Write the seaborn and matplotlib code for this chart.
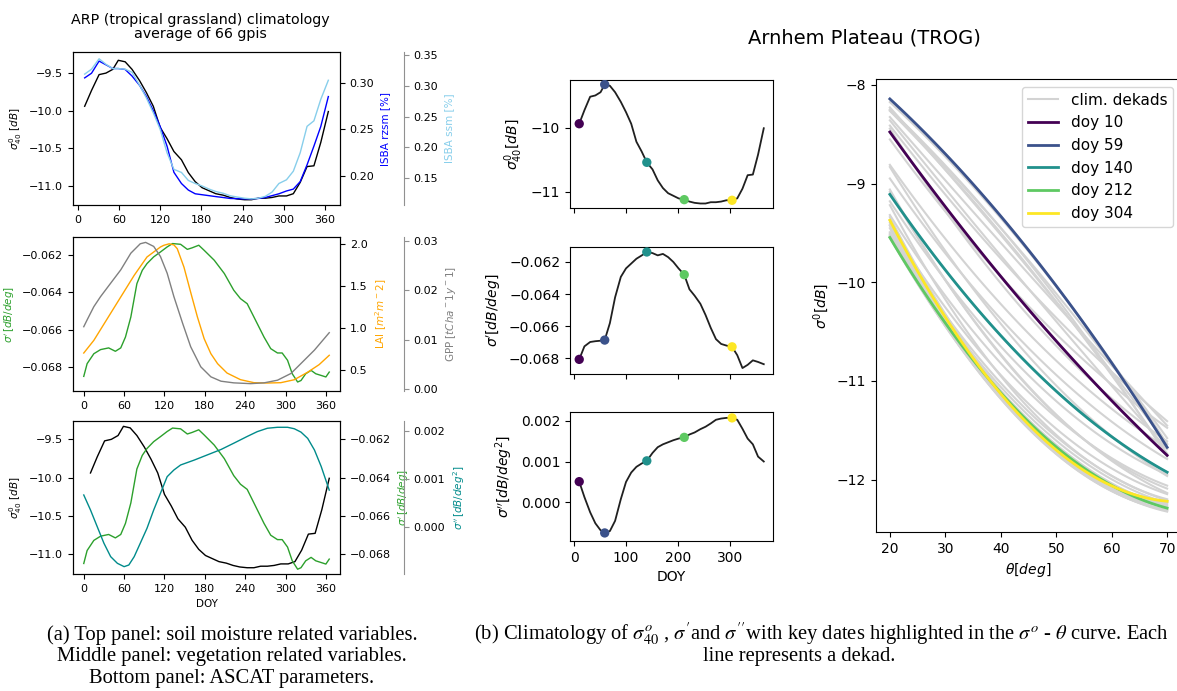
import numpy as np
import matplotlib
matplotlib.use("Agg")
import matplotlib.pyplot as plt
import seaborn as sns
from matplotlib.ticker import MultipleLocator, FixedLocator

# ---------------- data ----------------
dekad_doy = [10, 20, 31, 41, 51, 59, 69, 79, 90, 100, 110, 120, 130, 140, 151, 161, 171, 181,
             191, 201, 212, 222, 232, 243, 253, 263, 273, 283, 293, 304, 314, 324, 334, 344, 354, 365]
sig40 = [-9.94, -9.73, -9.52, -9.50, -9.45, -9.33, -9.35, -9.45, -9.60, -9.76,
         -9.94, -10.22, -10.37, -10.54, -10.65, -10.82, -10.94, -11.02, -11.06, -11.10,
         -11.12, -11.15, -11.17, -11.18, -11.18, -11.16, -11.16, -11.15, -11.13, -11.13,
         -11.10, -10.95, -10.74, -10.73, -10.42, -10.01]
sig1 = [-0.06806, -0.06725, -0.06698, -0.06693, -0.06690, -0.06686, -0.06580, -0.06420, -0.06293, -0.06240,
        -0.06210, -0.06180, -0.06160, -0.06138, -0.06145, -0.06159, -0.06150, -0.06170, -0.06200, -0.06240,
        -0.06279, -0.06370, -0.06410, -0.06460, -0.06530, -0.06610, -0.06680, -0.06710, -0.06720, -0.06728,
        -0.06780, -0.06860, -0.06840, -0.06812, -0.06822, -0.06836]
sig2 = [0.000508, 0.000130, -0.000240, -0.000510, -0.000680, -0.000746, -0.000700, -0.000450, 0.000080, 0.000500,
        0.000730, 0.000870, 0.000950, 0.001016, 0.001210, 0.001350, 0.001420, 0.001470, 0.001520, 0.001560,
        0.001590, 0.001660, 0.001710, 0.001790, 0.001850, 0.001930, 0.002020, 0.002050, 0.002066, 0.002066,
        0.002020, 0.001800, 0.001560, 0.001420, 0.001120, 0.001000]
rzsm = [0.305, 0.310, 0.323, 0.319, 0.315, 0.315, 0.314, 0.307, 0.297, 0.285,
        0.270, 0.253, 0.232, 0.204, 0.192, 0.185, 0.181, 0.180, 0.179, 0.178,
        0.177, 0.176, 0.1758, 0.1755, 0.1756, 0.176, 0.177, 0.179, 0.181, 0.184,
        0.186, 0.194, 0.212, 0.232, 0.253, 0.285]
ssm = [0.319, 0.327, 0.344, 0.335, 0.328, 0.328, 0.327, 0.322, 0.301, 0.280,
       0.256, 0.229, 0.191, 0.164, 0.159, 0.146, 0.141, 0.137, 0.132, 0.128,
       0.125, 0.121, 0.119, 0.117, 0.116, 0.117, 0.120, 0.127, 0.141, 0.147,
       0.161, 0.191, 0.234, 0.243, 0.278, 0.309]

slope_doy = [0, 5, 15, 25, 37, 47, 55, 62, 70, 79, 87, 94, 104, 114, 124, 132, 144, 154, 161, 171,
             179, 194, 209, 223, 233, 243, 253, 268, 278, 288, 295, 303, 310, 318, 323, 330, 338, 345, 353, 360, 365]
slope_val = [-0.0685, -0.06782, -0.06729, -0.06707, -0.06698, -0.06716, -0.06698, -0.0664, -0.06533, -0.06355,
             -0.06284, -0.06248, -0.06212, -0.06186, -0.06159, -0.06141, -0.06145, -0.06172, -0.06164, -0.0615,
             -0.06177, -0.0623, -0.06301, -0.0639, -0.06435, -0.06462, -0.06533, -0.0664, -0.06702, -0.06725,
             -0.06725, -0.06764, -0.06836, -0.0688, -0.06872, -0.06836, -0.06818, -0.06836, -0.06845, -0.06853,
             -0.06827]
curv_doy = [0, 10, 20, 30, 40, 50, 60, 67, 75, 84, 94, 104, 114, 124, 134, 144, 154, 164, 184, 204,
            223, 243, 258, 273, 288, 303, 313, 323, 333, 343, 353, 365]
curv_val = [0.000669, 0.000359, 0.000014, -0.00033, -0.000607, -0.000745, -0.000814, -0.00078, -0.000607, -0.00033,
            -0.000021, 0.000359, 0.000703, 0.001048, 0.001186, 0.00129, 0.00134, 0.00139, 0.0015, 0.00161,
            0.00174, 0.00188, 0.00198, 0.00205, 0.00207, 0.00207, 0.00204, 0.00197, 0.00184, 0.0016,
            0.00126, 0.00077]
lai_doy = [0, 15, 35, 55, 75, 94, 114, 119, 127, 134, 139, 149, 159, 169, 179, 189, 199, 213, 233, 253,
           273, 293, 313, 333, 350, 365]
lai_val = [0.698, 0.849, 1.107, 1.365, 1.623, 1.841, 1.96, 1.98, 1.998, 1.985,
           1.94, 1.72, 1.42, 1.127, 0.869, 0.69, 0.571, 0.46, 0.381, 0.345,
           0.341, 0.345, 0.38, 0.47, 0.56, 0.671]
gpp_doy = [0, 5, 15, 25, 40, 55, 70, 84, 92, 104, 114, 124, 134, 147, 159, 174, 189, 204, 223, 248,
           268, 288, 308, 323, 343, 365]
gpp_val = [0.01261, 0.014, 0.0167, 0.01875, 0.02148, 0.0242, 0.0276, 0.02952, 0.0298, 0.02898,
           0.02693, 0.02352, 0.01875, 0.0133, 0.00852, 0.00443, 0.00239, 0.0015, 0.00116, 0.001,
           0.00116, 0.0017, 0.00307, 0.00511, 0.00784, 0.01139]

key_doy = [10, 59, 140, 212, 304]
key_labels = ["doy 10", "doy 59", "doy 140", "doy 212", "doy 304"]
theta_deg = np.linspace(20, 70, 51)

# ---------------- layout ----------------
W, H = 1177, 691
fig = plt.figure(figsize=(W / 100, H / 100), dpi=100)
key_colors = sns.color_palette("viridis", as_cmap=True)(np.linspace(0, 1, len(key_doy)))


def add_px(x0, y0, x1, y1):
    return fig.add_axes([x0 / W, 1 - y1 / H, (x1 - x0) / W, (y1 - y0) / H])


def offset_axis(host, pos):
    a = host.twinx()
    a.spines['right'].set_position(('axes', pos))
    for s in ['top', 'bottom', 'left']:
        a.spines[s].set_visible(False)
    a.spines['right'].set_color('#909090')
    a.tick_params(axis='y', color='#909090')
    return a


def line(ax, x, y, color, lw=1.0, **kw):
    sns.lineplot(x=x, y=y, ax=ax, color=color, linewidth=lw, estimator=None,
                 sort=False, legend=False, **kw)


SMALL = 8
LAB = 7.5
OFF = (404 - 73) / (340 - 73)

# ---- left column ----
# top
a1 = add_px(73, 52, 340, 205)
line(a1, dekad_doy, sig40, 'black')
a1.set_xlim(-7, 382)
a1.set_ylim(-11.25, -9.22)
a1.xaxis.set_major_locator(MultipleLocator(60))
a1.yaxis.set_major_locator(MultipleLocator(0.5))
a1.set_ylabel(r'$\sigma^0_{40}\ [dB]$', fontsize=LAB)
a1.tick_params(labelsize=SMALL)
a1b = a1.twinx()
line(a1b, dekad_doy, rzsm, 'blue')
a1b.set_ylim(0.169, 0.3327)
a1b.yaxis.set_major_locator(MultipleLocator(0.05))
a1b.set_ylabel('ISBA rzsm [%]', color='blue', fontsize=LAB)
a1b.tick_params(labelsize=SMALL)
a1c = offset_axis(a1, OFF)
line(a1c, dekad_doy, ssm, 'skyblue')
a1c.set_ylim(0.106, 0.355)
a1c.yaxis.set_major_locator(MultipleLocator(0.05))
a1c.set_ylabel('ISBA ssm [%]', color='skyblue', fontsize=LAB)
a1c.tick_params(labelsize=SMALL)

# middle
a2 = add_px(73, 237, 340, 391)
line(a2, slope_doy, slope_val, 'tab:green')
a2.set_xlim(-16, 381)
a2.set_ylim(-0.06928, -0.06106)
a2.xaxis.set_major_locator(MultipleLocator(60))
a2.yaxis.set_major_locator(MultipleLocator(0.002))
a2.ticklabel_format(axis='y', useOffset=False)
a2.set_ylabel(r"$\sigma'\,[dB/deg]$", color='tab:green', fontsize=LAB)
a2.tick_params(labelsize=SMALL)
a2b = a2.twinx()
line(a2b, lai_doy, lai_val, 'orange')
a2b.set_ylim(0.246, 2.079)
a2b.yaxis.set_major_locator(MultipleLocator(0.5))
a2b.set_ylabel(r'LAI [$m^2 m^-2$]', color='orange', fontsize=LAB)
a2b.tick_params(labelsize=SMALL)
a2c = offset_axis(a2, OFF)
line(a2c, gpp_doy, gpp_val, 'gray')
a2c.set_ylim(-0.0005, 0.0309)
a2c.yaxis.set_major_locator(MultipleLocator(0.01))
a2c.set_ylabel(r'GPP [$t C ha^-1 y^-1$]', color='gray', fontsize=LAB)
a2c.tick_params(labelsize=SMALL)

# bottom
a3 = add_px(73, 421, 340, 574)
line(a3, dekad_doy, sig40, 'black')
a3.set_xlim(-16, 381)
a3.set_ylim(-11.262, -9.26)
a3.xaxis.set_major_locator(MultipleLocator(60))
a3.yaxis.set_major_locator(MultipleLocator(0.5))
a3.set_ylabel(r'$\sigma^0_{40}\ [dB]$', fontsize=LAB)
a3.set_xlabel('DOY', fontsize=LAB)
a3.tick_params(labelsize=SMALL)
a3b = a3.twinx()
line(a3b, slope_doy, slope_val, 'tab:green')
a3b.set_ylim(-0.06905, -0.06104)
a3b.yaxis.set_major_locator(MultipleLocator(0.002))
a3b.ticklabel_format(axis='y', useOffset=False)
a3b.set_ylabel(r"$\sigma'\,[dB/deg]$", color='tab:green', fontsize=LAB)
a3b.tick_params(labelsize=SMALL)
a3c = offset_axis(a3, OFF)
line(a3c, curv_doy, curv_val, 'darkcyan')
a3c.set_ylim(-0.000966, 0.0022)
a3c.yaxis.set_major_locator(MultipleLocator(0.001))
a3c.set_ylabel(r"$\sigma''\,[dB/deg^2]$", color='darkcyan', fontsize=LAB)
a3c.tick_params(labelsize=SMALL)

fig.text(200 / W, 1 - 27 / H, "ARP (tropical grassland) climatology\naverage of 66 gpis",
         ha='center', va='center', fontsize=10.3, linespacing=1.0)

# ---- middle column ----
key_idx = [dekad_doy.index(d) for d in key_doy]
mid = [(80, 208, sig40, r'$\sigma^0_{40}[dB]$', 1.0),
       (247, 374, sig1, r"$\sigma'[dB/deg]$", 0.002),
       (412, 541, sig2, r"$\sigma''[dB/deg^2]$", 0.001)]
mid_ylims = [(-11.25, -9.26), (-0.06897, -0.06107), (-0.000943, 0.00221)]
for k, (y0, y1, vals, lab, step) in enumerate(mid):
    ax = add_px(570, y0, 773, y1)
    line(ax, dekad_doy, vals, '#202020', lw=1.3)
    sns.scatterplot(x=[dekad_doy[i] for i in key_idx], y=[vals[i] for i in key_idx],
                    hue=key_labels, palette=list(key_colors), s=45, linewidth=0,
                    ax=ax, legend=False, zorder=3)
    ax.set_xlim(-7.75, 382.75)
    ax.set_ylim(*mid_ylims[k])
    ax.xaxis.set_major_locator(FixedLocator([0, 100, 200, 300]))
    ax.yaxis.set_major_locator(MultipleLocator(step))
    if k < 2:
        ax.tick_params(labelbottom=False)
    else:
        ax.set_xlabel('DOY', fontsize=10)
    if k == 1:
        ax.ticklabel_format(axis='y', useOffset=False)
    ax.set_ylabel(lab, fontsize=10)
    ax.tick_params(labelsize=10)

# ---- right panel ----
ac = add_px(876, 79, 1181, 532)
handles = []
for i in range(len(dekad_doy)):
    curve = sig40[i] + sig1[i] * (theta_deg - 40) + 0.5 * sig2[i] * (theta_deg - 40) ** 2
    line(ac, theta_deg, curve, 'lightgray', lw=1.5)
    if i == 0:
        handles.append(ac.lines[-1])
for c, i, lab in zip(key_colors, key_idx, key_labels):
    curve = sig40[i] + sig1[i] * (theta_deg - 40) + 0.5 * sig2[i] * (theta_deg - 40) ** 2
    line(ac, theta_deg, curve, c, lw=2.0)
    handles.append(ac.lines[-1])
ac.legend(handles, ['clim. dekads'] + key_labels, loc='upper right', fontsize=11)
ac.set_xlim(17.5, 72.5)
ac.set_ylim(-12.53, -7.94)
ac.xaxis.set_major_locator(MultipleLocator(10))
ac.yaxis.set_major_locator(MultipleLocator(1))
ac.set_xlabel(r'$\theta[deg]$', fontsize=10)
ac.set_ylabel(r'$\sigma^0[dB]$', fontsize=10)
ac.tick_params(labelsize=10)

fig.text(864 / W, 1 - 38 / H, "Arnhem Plateau (TROG)", ha='center', va='center', fontsize=14)

# ---- captions ----
cap = dict(family='Liberation Serif', fontsize=14.8, math_fontfamily='stix', va='center')
fig.text(232 / W, 1 - 635 / H, "(a) Top panel: soil moisture related variables.", ha='center', **cap)
fig.text(232 / W, 1 - 657 / H, "Middle panel: vegetation related variables.", ha='center', **cap)
fig.text(232 / W, 1 - 678 / H, "Bottom panel: ASCAT parameters.", ha='center', **cap)
fig.text(474 / W, 1 - 634 / H,
         r"(b) Climatology of $\sigma^o_{40}$ , $\sigma'$and $\sigma''$with key dates highlighted in the $\sigma^o$ - $\theta$ curve. Each",
         ha='left', **cap)
fig.text(799 / W, 1 - 656 / H, "line represents a dekad.", ha='center', **cap)

fig.savefig("out.png", dpi=100)
